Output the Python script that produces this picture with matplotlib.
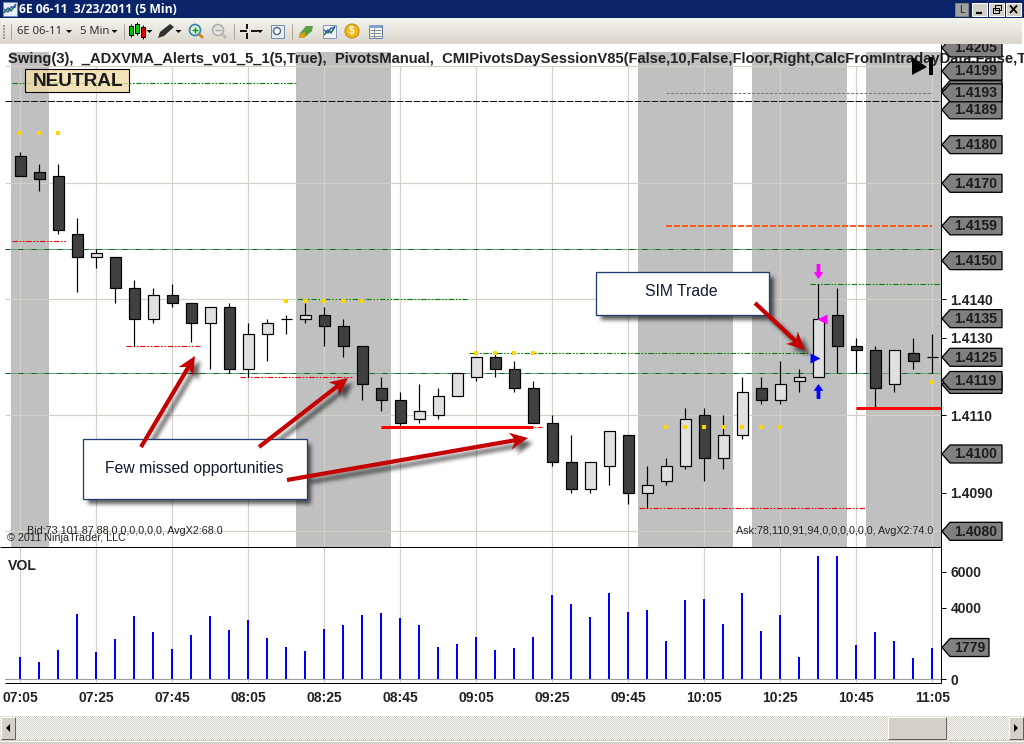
import numpy as np
import matplotlib
matplotlib.use("Agg")
import matplotlib.pyplot as plt
from matplotlib.patches import Polygon, Rectangle, Circle
from matplotlib.path import Path

W, H = 1024, 744
plt.rcParams['font.family'] = ['Liberation Sans', 'DejaVu Sans']

# ---------------- data ----------------
time_labels = ['07:05','07:25','07:45','08:05','08:25','08:45','09:05','09:25','09:45','10:05','10:25','10:45','11:05']
opens = [1.4177,1.4173,1.4172,1.4157,1.4151,1.4151,1.4143,1.4135,1.4141,1.4139,1.4134,1.4138,1.4122,1.4131,1.4135,1.4135,1.4136,
         1.4133,1.4128,1.4117,1.4114,1.4109,1.4110,1.4115,1.4120,1.4125,1.4122,1.4117,1.4108,1.4098,1.4091,1.4097,1.4105,1.4090,
         1.4093,1.4097,1.4110,1.4099,1.4105,1.4117,1.4114,1.4119,1.4120,1.4136,1.4128,1.4127,1.4118,1.4126,1.4125]
closes = [1.4172,1.4171,1.4158,1.4151,1.4152,1.4143,1.4135,1.4141,1.4139,1.4134,1.4138,1.4122,1.4131,1.4134,1.4135,1.4136,1.4133,
          1.4128,1.4118,1.4114,1.4108,1.4111,1.4115,1.4121,1.4125,1.4122,1.4117,1.4108,1.4098,1.4091,1.4098,1.4106,1.4090,1.4092,
          1.4097,1.4109,1.4099,1.4105,1.4116,1.4114,1.4118,1.4120,1.4135,1.4128,1.4127,1.4117,1.4127,1.4124,1.4125]
highs = [1.4178,1.4175,1.4175,1.4161,1.4153,1.4151,1.4145,1.4143,1.4144,1.4139,1.4138,1.4139,1.4134,1.4135,1.4136,1.4139,1.4138,
         1.4135,1.4128,1.4120,1.4116,1.4118,1.4117,1.4121,1.4125,1.4126,1.4124,1.4119,1.4110,1.4105,1.4098,1.4106,1.4105,1.4097,
         1.4099,1.4112,1.4112,1.4110,1.4120,1.4120,1.4124,1.4122,1.4144,1.4143,1.4130,1.4128,1.4127,1.4130,1.4131]
lows = [1.4172,1.4168,1.4157,1.4142,1.4148,1.4139,1.4128,1.4134,1.4138,1.4129,1.4122,1.4121,1.4120,1.4124,1.4131,1.4134,1.4128,
        1.4125,1.4114,1.4111,1.4107,1.4108,1.4109,1.4115,1.4119,1.4120,1.4116,1.4108,1.4097,1.4090,1.4090,1.4092,1.4087,1.4086,
        1.4092,1.4096,1.4093,1.4096,1.4104,1.4113,1.4113,1.4116,1.4120,1.4121,1.4121,1.4112,1.4116,1.4122,1.4121]
volumes = [1240,965,1630,3640,1520,2245,3525,2635,1690,2465,3525,2745,3300,2300,1800,1575,2800,3025,3580,3690,3415,3025,1800,1965,
           2355,1630,1745,2355,4695,4190,3470,4805,3745,3860,2135,4415,4470,3080,4805,2690,3580,1245,6860,6860,1910,2635,2135,1185,1779]
band_start = [-0.5, 14.5, 32.5, 38.5, 44.5]
band_end = [1.5, 19.5, 37.5, 43.5, 48.6]
grid_prices = [1.4080, 1.4110, 1.4140, 1.4170, 1.42003]
tick_prices = [1.4140, 1.4130, 1.4110, 1.4090]
flag_prices = [1.4205, 1.4199, 1.4189, 1.41942, 1.41934, 1.4180, 1.4170, 1.4159, 1.4150, 1.4135, 1.4125, 1.4118, 1.4119, 1.4100, 1.4080]
vol_ticks = [0, 4000, 6000]
vol_flag = 1779
# level lines: price, start bar, end bar
green_levels = [(1.4196, -0.44, 14.5), (1.4140, 14.55, 23.5), (1.4126, 23.6, 41.45), (1.4144, 41.55, 48.5)]
red_levels = [(1.4155, -0.44, 2.47), (1.4128, 5.57, 9.45), (1.4120, 11.57, 17.45), (1.4107, 26.5, 27.45), (1.4086, 32.55, 44.45)]
thick_red_levels = [(1.4107, 19.0, 27.0), (1.4112, 44.0, 48.5)]
pivot_levels = [1.4153, 1.4121]
black_level = 1.41912
gray_level = (1.41933, 34.0, 48.0)
orange_level = (1.4159, 34.0, 48.0)
swing_x = [0,1,2, 14,15,16,17,18, 24,25,26,27, 34,35,36,37,38,39,40, 48]
swing_y = [1.4183]*3 + [1.41395]*5 + [1.4126]*4 + [1.4107]*7 + [1.41187]
title = "Swing(3),  _ADXVMA_Alerts_v01_5_1(5,True),  PivotsManual,  CMIPivotsDaySessionV85(False,10,False,Floor,Right,CalcFromIntradayData,False,True"

# ---------------- axes ----------------
fig = plt.figure(figsize=(W/100, H/100), dpi=100, facecolor='white')
def pane(x0, y0, x1, y1, **kw):
    return fig.add_axes([x0/W, 1-y1/H, (x1-x0)/W, (y1-y0)/H], **kw)
ax = pane(5, 52, 941.3, 547)
vol = pane(5, 547, 941.3, 683)
xl = ((5-20.3)/19, (941.3-20.3)/19)
ax.set_xlim(*xl); vol.set_xlim(*xl)
ax.set_ylim(1.4140-(547-299.3)/38670, 1.4140+(299.3-52)/38670)
vol.set_ylim(-195, 7373)
for a in (ax, vol):
    for s in a.spines.values():
        s.set_visible(False)
GRID = '#d4d0c8'
px = 0.72

bars = np.arange(len(opens))
for s, e in zip(band_start, band_end):
    ax.axvspan(s, e, color='#c0c0c0', lw=0, zorder=1)
ax.hlines(grid_prices, *xl, color=GRID, lw=px*1.2, zorder=2)
ax.vlines(bars[::4], ax.get_ylim()[0], grid_prices[-1], color=GRID, lw=px*1.2, zorder=2)
vol.vlines(bars[::4], *vol.get_ylim(), color=GRID, lw=px*1.2, zorder=1)

# level lines
ddd = (0, (5, 1.5, 1.5, 1.5, 1.5, 1.5))
for p in pivot_levels:
    ax.hlines(p, *xl, color='#6fa06f', lw=px, zorder=3)
    ax.hlines(p, *xl, color='#063', lw=px, linestyles=[(0, (5, 8))], zorder=3)
ax.hlines(black_level, *xl, color='#111111', lw=px, linestyles=[(0, (7, 1.5))], zorder=3)
for p, a, b in green_levels:
    ax.hlines(p, a, b, color='#008000', lw=px*1.1, linestyles=[ddd], zorder=3)
for p, a, b in red_levels:
    ax.hlines(p, a, b, color='#f00000', lw=px*1.1, linestyles=[ddd], zorder=3)
ax.hlines(gray_level[0], gray_level[1], gray_level[2], color='#777777', lw=px, linestyles=[(0, (3, 1.5))], zorder=3)

# candles
opens_a, closes_a = np.array(opens), np.array(closes)
tops, bots = np.maximum(opens_a, closes_a), np.minimum(opens_a, closes_a)
ax.vlines(bars, lows, highs, color='black', lw=px*1.2, zorder=4)
cols = ['#e0e0e0' if c >= o else '#404040' for o, c in zip(opens, closes)]
ax.bar(bars, tops-bots, bottom=bots, width=0.55, color=cols, edgecolor='black', linewidth=px*1.2, zorder=5)

for p, a, b in thick_red_levels:
    ax.hlines(p, a, b, color='#ff0000', lw=3*px, zorder=6)
ax.hlines(orange_level[0], orange_level[1], orange_level[2], color='#ff5a1e', lw=2*px, linestyles=[(0, (3, 1))], zorder=6)
ax.scatter(swing_x, swing_y, marker='s', s=(5*px)**2, color='#ffd400', linewidths=0, zorder=7)

# trade markers from custom marker paths
up = Path([(0,1),(-0.65,0.1),(-0.25,0.1),(-0.25,-1),(0.25,-1),(0.25,0.1),(0.65,0.1),(0,1)], closed=True)
down = Path([(0,-1),(-0.65,-0.1),(-0.25,-0.1),(-0.25,1),(0.25,1),(0.25,-0.1),(0.65,-0.1),(0,-1)], closed=True)
ax.scatter([42], [1.41164], marker=up, s=(15*px)**2, color='#0000ff', linewidths=0, zorder=7)
ax.scatter([42], [1.41474], marker=down, s=(15*px)**2, color='#ff00ff', linewidths=0, zorder=7)
ax.scatter([41.85], [1.41249], marker='>', s=(10*px)**2, color='#0000ff', linewidths=0, zorder=7)
ax.scatter([42.17], [1.41348], marker='<', s=(10*px)**2, color='#ff00ff', linewidths=0, zorder=7)

# axis ticks
ax.yaxis.tick_right()
ax.set_yticks(tick_prices)
ax.set_yticklabels([f'{p:.4f}' for p in tick_prices], fontsize=10, fontweight='bold', color='#222222')
ax.tick_params(axis='y', length=3.6, width=px, pad=3, color='black')
ax.set_xticks([])
vol.yaxis.tick_right()
vol.set_yticks(vol_ticks)
vol.set_yticklabels([str(v) for v in vol_ticks], fontsize=10, fontweight='bold', color='#222222')
vol.tick_params(axis='y', length=3.6, width=px, pad=3, color='black')
vol.set_xticks(bars[::4])
vol.set_xticklabels(time_labels, fontsize=10, fontweight='bold', color='#222222')
vol.tick_params(axis='x', length=0, pad=5.5)

# volume
vol.axhline(0, color='#a0a0a0', lw=px*1.2, zorder=2)
vol.bar(bars-0.03, volumes, width=0.105, color='#0000ff', lw=0, zorder=3)

# ---------------- pixel overlay ----------------
ov = fig.add_axes([0, 0, 1, 1], zorder=10)
ov.patch.set_alpha(0)
ov.axis('off')
ov.set_xlim(0, W); ov.set_ylim(H, 0)
fig.canvas.draw()
def ypx(axis, v):
    return H - axis.transData.transform((0, v))[1]

def rect(x0, y0, x1, y1, fc, ec='none', lw=0, z=20, **kw):
    r = Rectangle((x0, y0), x1-x0, y1-y0, facecolor=fc, edgecolor=ec, linewidth=lw, zorder=z, **kw)
    ov.add_patch(r)
    return r
def line(xs, ys, c='black', lw=px, z=20, **kw):
    ov.plot(xs, ys, color=c, lw=lw, zorder=z, solid_capstyle='butt', **kw)
def poly(pts, fc, ec='none', lw=0, z=20):
    ov.add_patch(Polygon(pts, closed=True, facecolor=fc, edgecolor=ec, linewidth=lw, zorder=z))
def txt(x, y, s, size, z=20, ha='left', va='center', **kw):
    ov.text(x, y, s, fontsize=size*0.72, ha=ha, va=va, zorder=z, **kw)

def arrow_pts(x0, y0, x1, y1, sw=4.2, hl=18, hw=17):
    d = np.array([x1-x0, y1-y0], float); L = np.hypot(*d); d /= L
    n = np.array([-d[1], d[0]])
    s = np.array([x0, y0]); t = np.array([x1, y1])
    b = t - d*hl
    nk = t - d*(hl-4)
    return [s+n*sw/2, nk+n*sw/2, b+n*hw/2, t, b-n*hw/2, nk-n*sw/2, s-n*sw/2]

arrows = [(141,447,195,356), (259,447,348,378), (287,480,528,438), (755,303,805,350)]
boxes = [(83,439,306.5,499), (596,272,769,315)]

# soft shadow layer
yy, xx = np.mgrid[0:H, 0:W]
grid_pts = np.c_[xx.ravel()+0.5, yy.ravel()+0.5]
mask = np.zeros((H, W))
off = 5
for b in boxes:
    mask[int(b[1]+off):int(b[3]+off), int(b[0]+off):int(b[2]+off)] = 1
for a in arrows:
    pts = np.array(arrow_pts(*a)) + off
    inside = Path(pts).contains_points(grid_pts).reshape(H, W)
    mask[inside] = 1
k = np.ones(5)/5
for _ in range(2):
    mask = np.apply_along_axis(lambda r: np.convolve(r, k, mode='same'), 0, mask)
    mask = np.apply_along_axis(lambda r: np.convolve(r, k, mode='same'), 1, mask)
shadow = np.zeros((H, W, 4))
shadow[..., 3] = mask*0.62
ov.imshow(shadow, extent=(0, W, H, 0), aspect='auto', zorder=11, interpolation='nearest')
ov.set_xlim(0, W); ov.set_ylim(H, 0)

# NEUTRAL box + title + labels
rect(25, 69, 129, 92, '#f0dca8', ec='black', lw=px*1.1, z=12, alpha=None).set_facecolor((0.95, 0.86, 0.66, 0.8))
txt(33, 81, 'NEUTRAL', 19, z=13, fontweight='bold', color='#1a1a1a')
title_t = ov.text(8, 58.5, title, fontsize=10.6, fontweight='bold', color='#222222', va='center', ha='left', zorder=12, clip_on=True)
txt(8, 566, 'VOL', 14, z=12, fontweight='bold', color='#222222')
txt(7, 538, '\u00a9 2011 NinjaTrader, LLC', 10.7, z=12, color='#222222')
txt(27, 531, 'Bid:73,101,87,88,0,0,0,0,0,0, AvgX2:68.0', 10.7, z=12, color='#222222')
txt(933, 531, 'Ask:78,110,91,94,0,0,0,0,0,0, AvgX2:74.0', 10.7, z=12, ha='right', color='#222222')

# ▶| icon
poly([(912,57),(927,67),(912,75)], 'black', z=13)
rect(929,57,932.5,75,'black', z=13)

# frame lines
line([941.3,941.3],[44,683], z=14)
line([0,941.3],[547,547], z=14)
line([5,941.3],[683.3,683.3], z=14)

# flags
def flag(y, label, right=1002, z=15):
    h = 9
    poly([(942,y),(950,y-h),(right,y-h),(right,y+h),(950,y+h)], '#808080', ec='black', lw=px*1.3, z=z)
    txt(954, y+0.3, label, 14, z=z, fontweight='bold', color='#1c1c1c')
for i, p in enumerate(flag_prices):
    flag(ypx(ax, p), f'{p:.4f}', z=15+i*0.01)
flag(ypx(vol, vol_flag), str(vol_flag), right=989)

# callout boxes
for b, s, xt, yt, ha in [(boxes[0], 'Few missed opportunities', 105, 468, 'left'), (boxes[1], 'SIM Trade', 681, 292, 'center')]:
    rect(b[0], b[1], b[2], b[3], 'white', ec='#1f3f70', lw=px*1.3, z=16)
    txt(xt, yt, s, 15.7, z=17, ha=ha, color='#10182c')
for a in arrows:
    poly(arrow_pts(*a), '#c40000', z=18)

# ---------------- window chrome ----------------
Z = 30
rect(0, 0, W, 18, '#0a246a', z=Z)
rect(3, 2, 17, 16, '#e8eefc', ec='#7088b8', lw=px, z=Z)
line([4,8,11,16],[13,8,11,4], c='#208040', lw=1.2, z=Z+1)
line([4,8,11,16],[9,12,7,7], c='#3050c0', lw=1, z=Z+1)
txt(19, 9.5, '6E 06-11  3/23/2011 (5 Min)', 12.1, z=Z+1, fontweight='bold', color='white', family=['Open Sans','DejaVu Sans'])
# toolbar gradient
grad = np.linspace(0, 1, 26)[:, None, None]
top_c = np.array([0.96,0.955,0.935]); bot_c = np.array([0.855,0.84,0.80])
ov.imshow(top_c + (bot_c-top_c)*grad, extent=(0, 1022, 44, 18), aspect='auto', zorder=Z)
ov.set_xlim(0, W); ov.set_ylim(H, 0)
rect(1022, 18, W, 44, 'white', z=Z)
for y in range(25, 38, 3):
    rect(3, y, 5, y+1.6, '#a09c90', z=Z+1)
for x in (11, 124, 234, 292):
    line([x,x],[24,39], c='#a8a498', z=Z+1)
txt(17, 31.5, '6E 06-11', 11.3, z=Z+1, color='#222222', family=['Open Sans','DejaVu Sans'])
txt(80, 31.5, '5 Min', 11.3, z=Z+1, color='#222222', family=['Open Sans','DejaVu Sans'])
for x in (69, 114.5, 149.5, 178.5, 260):
    poly([(x-3,30),(x+3,30),(x,33)], 'black', z=Z+1)
# candle icon
for x, t, b, c in [(131,26,35,'#00c000'),(137,24,33,'#00d000'),(143,27,37,'#e00000')]:
    line([x,x],[t-2,b+2], z=Z+1)
    rect(x-2,t,x+2,b,c,ec='black',lw=px,z=Z+2)
# pencil
poly([(158,38),(160,32),(170,24),(174,27),(164,36)], '#303030', z=Z+1)
# magnifiers
ov.add_patch(Circle((195,30),5.5,fc='#d8f0d0',ec='#3a80b0',lw=1.2,zorder=Z+1))
line([199,203],[34,38],c='#d08020',lw=2,z=Z+1)
line([192,198],[30,30],c='#109030',lw=1,z=Z+2); line([195,195],[27,33],c='#109030',lw=1,z=Z+2)
ov.add_patch(Circle((218,30),5.5,fc='#e4e4e4',ec='#b0b0b0',lw=1.2,zorder=Z+1))
line([222,226],[34,38],c='#b8b8b8',lw=2,z=Z+1)
line([215,221],[30,30],c='#a8a8a8',lw=1,z=Z+2)
# crosshair
line([240,247],[31,31],lw=1.3,z=Z+1); line([251,258],[31,31],lw=1.3,z=Z+1)
line([247,247],[24,29],lw=1.3,z=Z+1); line([247,247],[33,39],lw=1.3,z=Z+1)
# other icons
rect(271,25,284,38,'#e8f0fa',ec='#7090b0',lw=px,z=Z+1)
ov.add_patch(Circle((277,31),3.5,fc='#ffffff',ec='#506080',lw=1,zorder=Z+2))
poly([(300,33),(306,26),(313,26),(312,31),(305,37),(300,38)], '#58a040', z=Z+1)
poly([(299,34),(305,32),(305,38),(299,38)], '#d8a020', z=Z+2)
rect(323,25,336,38,'#f0f4fc',ec='#8098b8',lw=px,z=Z+1)
line([324,328,331,335],[35,30,33,26],c='#208040',lw=1.2,z=Z+2)
line([324,328,331,335],[30,33,28,28],c='#3050c0',lw=1,z=Z+2)
ov.add_patch(Circle((352,31),7,fc='#f0b818',ec='#c08808',lw=px,zorder=Z+1))
txt(352,31.3,'$',10,z=Z+2,ha='center',color='white',fontweight='bold')
rect(369,25,382,38,'#fff8e0',ec='#6080b0',lw=px,z=Z+1)
rect(369,25,382,28,'#80a0d0',z=Z+2)
for y in (30,33,36):
    line([370,381],[y,y],c='#8090a8',z=Z+2)
line([374,374],[28,38],c='#8090a8',z=Z+2)
# window buttons
rect(955,3,968,16,'#a0a0a0',ec='#808080',lw=px,z=Z+1)
txt(961.5,10,'L',10,z=Z+2,ha='center',color='#202020')
for x0 in (972,989,1006):
    rect(x0,3,x0+15,15.5,'#d4d0c8',ec='white',lw=px,z=Z+1)
line([976,982],[13,13],lw=1.6,z=Z+2)
rect(993,8,999,13,'none',ec='black',lw=px,z=Z+2)
rect(995,5,1001,10,'none',ec='black',lw=px,z=Z+2)
line([1010,1017],[5.5,13],lw=1.3,z=Z+2); line([1017,1010],[5.5,13],lw=1.3,z=Z+2)
# scrollbar
ck = np.indices((24, 1024)).sum(axis=0) % 2
sc = np.where(ck[..., None] == 0, np.array([0.83,0.816,0.784]), np.array([0.98,0.98,0.97]))
ov.imshow(sc, extent=(0, W, 740, 716), aspect='auto', zorder=Z, interpolation='nearest')
ov.set_xlim(0, W); ov.set_ylim(H, 0)
rect(0, 740, W, H, '#d4d0c8', z=Z)
rect(0, 741, W, 742, '#f4f3ee', z=Z+1)
for x0, x1 in ((1, 15), (1009, 1023), (888, 946)):
    rect(x0, 717, x1, 739, '#d4d0c8', ec='#606060', lw=px, z=Z+1)
    line([x0,x0,x1],[739,717,717], c='white', z=Z+2)
poly([(10,724),(10,732),(6,728)], 'black', z=Z+2)
poly([(1014,724),(1014,732),(1018,728)], 'black', z=Z+2)

fig.savefig('out.png', dpi=100)
